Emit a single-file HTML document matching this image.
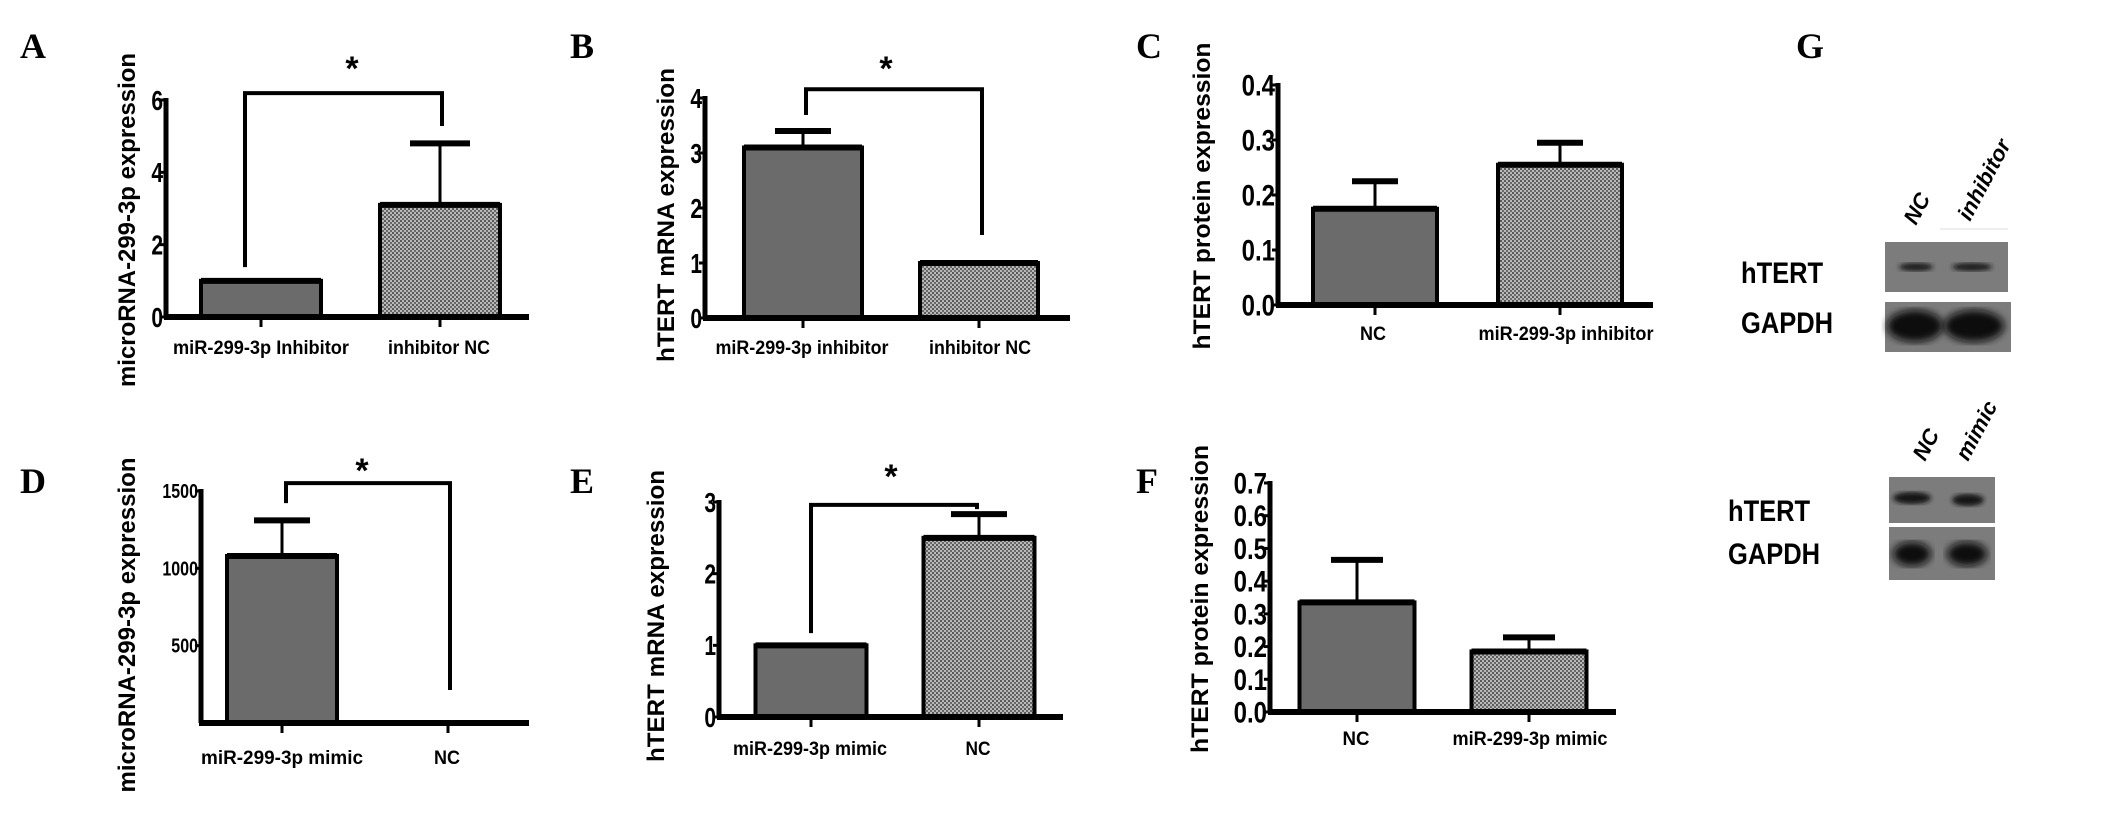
<!DOCTYPE html>
<html><head><meta charset="utf-8"><style>
html,body{margin:0;padding:0;background:#fff;}
svg{display:block;}
</style></head><body>
<svg id="fig" width="2126" height="821" viewBox="0 0 2126 821" xmlns="http://www.w3.org/2000/svg">
<defs>
<pattern id="hatch" width="4" height="4" patternUnits="userSpaceOnUse">
<rect width="4" height="4" fill="#b8b8b8"/>
<rect width="2" height="2" fill="#5a5a5a"/>
<rect x="2" y="2" width="2" height="2" fill="#6a6a6a"/>
</pattern>
<filter id="blur2"><feGaussianBlur stdDeviation="2.5"/></filter>
<filter id="blur4"><feGaussianBlur stdDeviation="4"/></filter>
</defs>
<g id="charts"></g>
<g id="blots"></g>
</svg>
<script>
// ---- data arrays ----
const aCats = ["miR-299-3p  Inhibitor", "inhibitor NC"];
const aVals = [1, 3.1];
const aErrs = [1, 4.8];
const aTicks = [0, 2, 4, 6];
const aTickLabels = ["0", "2", "4", "6"];
const aBracket = [6.19, 1.38, 5.28];

const bCats = ["miR-299-3p inhibitor", "inhibitor NC"];
const bVals = [3.1, 1];
const bErrs = [3.4, 1];
const bTicks = [0, 1, 2, 3, 4];
const bTickLabels = ["0", "1", "2", "3", "4"];
const bBracket = [4.16, 3.69, 1.51];

const cCats = ["NC", "miR-299-3p inhibitor"];
const cVals = [0.175, 0.255];
const cErrs = [0.225, 0.295];
const cTicks = [0, 0.1, 0.2, 0.3, 0.4];
const cTickLabels = ["0.0", "0.1", "0.2", "0.3", "0.4"];

const dCats = ["miR-299-3p mimic", "NC"];
const dVals = [1080, 0];
const dErrs = [1310, 0];
const dTicks = [500, 1000, 1500];
const dTickLabels = ["500", "1000", "1500"];
const dBracket = [1551, 1422, 213];

const eCats = ["miR-299-3p mimic", "NC"];
const eVals = [1, 2.5];
const eErrs = [1, 2.83];
const eTicks = [0, 1, 2, 3];
const eTickLabels = ["0", "1", "2", "3"];
const eBracket = [2.96, 1.17, 2.9];

const fCats = ["NC", "miR-299-3p mimic"];
const fVals = [0.335, 0.185];
const fErrs = [0.465, 0.228];
const fTicks = [0, 0.1, 0.2, 0.3, 0.4, 0.5, 0.6, 0.7];
const fTickLabels = ["0.0", "0.1", "0.2", "0.3", "0.4", "0.5", "0.6", "0.7"];

const NS = "http://www.w3.org/2000/svg";
function el(tag, attrs, parent) {
  const e = document.createElementNS(NS, tag);
  for (const k in attrs) e.setAttribute(k, attrs[k]);
  parent.appendChild(e);
  return e;
}
function txt(parent, x, y, s, size, anchor, sx, extra) {
  const t = el("text", {x: x / sx, y: y, "font-family": "Liberation Sans, Arial, sans-serif", "font-weight": "bold",
    "font-size": size, "text-anchor": anchor, transform: "scale(" + sx + ",1)", fill: "#000"}, parent);
  if (extra) for (const k in extra) t.setAttribute(k, extra[k]);
  t.textContent = s;
  return t;
}

function chart(p) {
  const root = document.getElementById("charts");
  const g = el("g", {}, root);
  
  
  const vmax = p.ticks[p.ticks.length - 1];
  const y = v => p.y0 - (v - p.vmin) / (vmax - p.vmin) * (p.y0 - p.yTop);
  const L = el("text", {x: p.letter[0], y: p.letter[1], "font-family": "Liberation Serif, serif", "font-weight": "bold", "font-size": 36}, g);
  L.textContent = p.id.toUpperCase();
  
  
  const yl = el("text", {x: 0, y: 0, "font-family": "Liberation Sans, Arial, sans-serif", "font-weight": "bold", "font-size": 24,
    "text-anchor": "middle", textLength: p.ylabLen, lengthAdjust: "spacingAndGlyphs",
    transform: "translate(" + (p.ylabX + 8) + "," + p.ylabY + ") rotate(-90)"}, g);
  yl.textContent = p.ylab;
  
  
  for (let i = 0; i < p.vals.length; i++) {
    const cx = p.centers[i];
    const top = y(p.vals[i]);
    const b = el("rect", {x: cx - p.bw / 2, y: top, width: p.bw, height: Math.max(0, p.y0 - top),
      fill: i === p.solid ? "#6b6b6b" : "url(#hatch)", stroke: "#000", "stroke-width": 4}, g);
    
    
    if (p.vals[i] > 0) {
      el("line", {x1: cx - p.bw / 2, x2: cx + p.bw / 2, y1: top, y2: top, stroke: "#000", "stroke-width": 6}, g);
    }
    if (p.errs[i] > p.vals[i]) {
      const ey = y(p.errs[i]);
      const eb = el("line", {x1: cx, x2: cx, y1: top, y2: ey, stroke: "#000", "stroke-width": 3}, g);
      
      
      el("line", {x1: cx - p.cap / 2, x2: cx + p.cap / 2, y1: ey, y2: ey, stroke: "#000", "stroke-width": 6}, g);
    }
    el("line", {x1: cx, x2: cx, y1: p.y0, y2: p.y0 + 10, stroke: "#000", "stroke-width": 3}, g);
    const cl = txt(g, p.labC[i], p.labY, p.cats[i], 19, "middle", 1, {textLength: p.labLen[i], lengthAdjust: "spacingAndGlyphs"});
    
    
  }
  const ya = el("line", {x1: p.axisX, x2: p.axisX, y1: y(vmax) - 2, y2: p.y0, stroke: "#000", "stroke-width": 5}, g);
  
  
  const xa = el("line", {x1: p.axisX - 2, x2: p.xEnd, y1: p.y0, y2: p.y0, stroke: "#000", "stroke-width": 6}, g);
  
  
  for (let i = 0; i < p.ticks.length; i++) {
    const ty = y(p.ticks[i]);
    el("line", {x1: p.axisX - 6, x2: p.axisX, y1: ty, y2: ty, stroke: "#000", "stroke-width": 3}, g);
    const tl = txt(g, p.axisX - 3, ty + p.tickSize * 0.35, p.tickLabels[i], p.tickSize, "end", p.tickScale);
    
    
  }
  if (p.bracket) {
    const by = y(p.bracket[0]);
    const br = el("path", {d: "M" + p.brX[0] + "," + y(p.bracket[1]) + " V" + by + " H" + p.brX[1] + " V" + y(p.bracket[2]),
      fill: "none", stroke: "#000", "stroke-width": 4}, g);
    
    
    const st = txt(g, p.star[0], p.star[1], "*", 34, "middle", 1);
    
    
  }
}

chart({id: "a", letter: [20, 58], ylab: "microRNA-299-3p expression", ylabX: 127, ylabY: 220, ylabLen: 334,
  axisX: 166, xEnd: 529, y0: 317, yTop: 100, vmin: 0, ticks: aTicks, tickLabels: aTickLabels, tickSize: 28, tickScale: 0.75,
  cats: aCats, vals: aVals, errs: aErrs, solid: 0, centers: [261, 440], bw: 120, cap: 60,
  labC: [261, 439], labY: 354, labLen: [176, 102], bracket: aBracket, brX: [245, 442], star: [352, 80]});
chart({id: "b", letter: [570, 58], ylab: "hTERT mRNA expression", ylabX: 666, ylabY: 215, ylabLen: 294,
  axisX: 705, xEnd: 1070, y0: 318, yTop: 98, vmin: 0, ticks: bTicks, tickLabels: bTickLabels, tickSize: 28, tickScale: 0.75,
  cats: bCats, vals: bVals, errs: bErrs, solid: 0, centers: [803, 979], bw: 118, cap: 56,
  labC: [802, 980], labY: 354, labLen: [173, 102], bracket: bBracket, brX: [806, 982], star: [886, 80]});
chart({id: "c", letter: [1136, 58], ylab: "hTERT  protein expression", ylabX: 1202, ylabY: 196, ylabLen: 307,
  axisX: 1278, xEnd: 1653, y0: 305, yTop: 85, vmin: 0, ticks: cTicks, tickLabels: cTickLabels, tickSize: 30, tickScale: 0.8,
  cats: cCats, vals: cVals, errs: cErrs, solid: 0, centers: [1375, 1560], bw: 124, cap: 46,
  labC: [1373, 1566], labY: 340, labLen: [26, 175]});
chart({id: "d", letter: [20, 493], ylab: "microRNA-299-3p expression", ylabX: 127, ylabY: 625, ylabLen: 335,
  axisX: 201, xEnd: 529, y0: 723, yTop: 491, vmin: 0, ticks: dTicks, tickLabels: dTickLabels, tickSize: 20, tickScale: 0.8,
  cats: dCats, vals: dVals, errs: dErrs, solid: 0, centers: [282, 448], bw: 110, cap: 56,
  labC: [282, 447], labY: 764, labLen: [162, 26], bracket: dBracket, brX: [286, 450], star: [362, 482]});
chart({id: "e", letter: [570, 493], ylab: "hTERT mRNA expression", ylabX: 656, ylabY: 616, ylabLen: 292,
  axisX: 719, xEnd: 1063, y0: 717, yTop: 502, vmin: 0, ticks: eTicks, tickLabels: eTickLabels, tickSize: 28, tickScale: 0.75,
  cats: eCats, vals: eVals, errs: eErrs, solid: 0, centers: [811, 979], bw: 111, cap: 56,
  labC: [810, 978], labY: 755, labLen: [154, 25], bracket: eBracket, brX: [811, 977], star: [891, 488]});
chart({id: "f", letter: [1136, 493], ylab: "hTERT  protein expression", ylabX: 1200, ylabY: 599, ylabLen: 308,
  axisX: 1270, xEnd: 1616, y0: 712, yTop: 483, vmin: 0, ticks: fTicks, tickLabels: fTickLabels, tickSize: 30, tickScale: 0.8,
  cats: fCats, vals: fVals, errs: fErrs, solid: 0, centers: [1357, 1529], bw: 115, cap: 52,
  labC: [1356, 1530], labY: 745, labLen: [27, 155]});

// ---- western blots (panel G) ----
(function () {
  const g = document.getElementById("blots");
  const G = el("text", {x: 1796, y: 58, "font-family": "Liberation Serif, serif", "font-weight": "bold", "font-size": 36}, g);
  G.textContent = "G";
  
  
  function blot(name, x, y, w, h, bands, bh, blurId, bandColor) {
    const r = el("rect", {x: x, y: y, width: w, height: h, fill: "#7c7c7c"}, g);
    
    
    bands.forEach(b => {
      el("ellipse", {cx: b[0], cy: b[1], rx: b[2], ry: bh, fill: bandColor, filter: "url(#" + blurId + ")"}, g);
    });
  }
  function label(s, x, y, name) {
    const t = txt(g, x, y, s, 30, "start", 0.85);
    
    
  }
  function lane(s, x, y, name) {
    const t = el("text", {x: 0, y: 0, "font-family": "Liberation Sans, Arial, sans-serif", "font-weight": "bold", "font-style": "italic",
      "font-size": 22, transform: "translate(" + x + "," + y + ") rotate(-62)"}, g);
    t.textContent = s;
    
    
  }
  lane("NC", 1916, 226, 'lane-label-nc-top');
  lane("inhibitor", 1970, 222, 'lane-label-inhibitor');
  el("line", {x1: 1940, x2: 2008, y1: 229, y2: 229, stroke: "#ddd", "stroke-width": 1}, g);
  blot('hTERT-blot-top', 1885, 242, 123, 50, [[1916, 267, 17], [1972, 267, 20]], 4, "blur2", "#1a1a1a");
  blot('GAPDH-blot-top', 1885, 302, 126, 50, [[1915, 326, 28], [1974, 326, 30]], 16, "blur4", "#080808");
  label("hTERT", 1741, 283, 'protein-label-htert-top');
  label("GAPDH", 1741, 333, 'protein-label-gapdh-top');
  lane("NC", 1925, 462, 'lane-label-nc-bottom');
  lane("mimic", 1968, 462, 'lane-label-mimic');
  blot('hTERT-blot-bottom', 1889, 477, 106, 46, [[1912, 498, 19], [1968, 500, 16]], 6, "blur2", "#151515");
  blot('GAPDH-blot-bottom', 1889, 527, 106, 53, [[1912, 554, 19], [1967, 554, 20]], 12, "blur4", "#0c0c0c");
  label("hTERT", 1728, 521, 'protein-label-htert-bottom');
  label("GAPDH", 1728, 564, 'protein-label-gapdh-bottom');
})();
</script>
</body></html>
